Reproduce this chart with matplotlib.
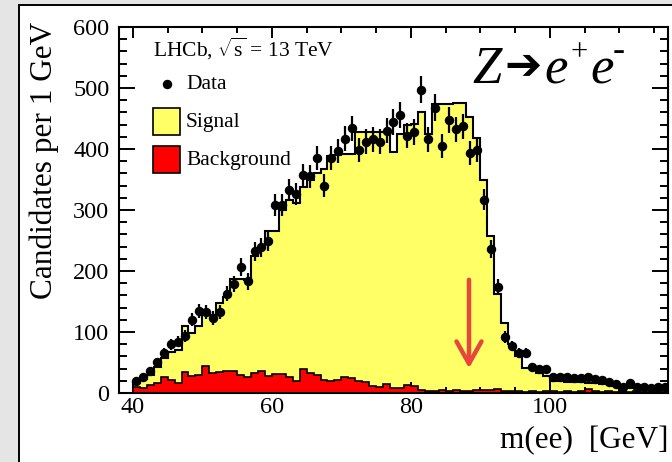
import numpy as np
import matplotlib
matplotlib.use("Agg")
import matplotlib.pyplot as plt
from matplotlib.patches import Rectangle, FancyArrowPatch
from matplotlib.lines import Line2D

plt.rcParams["font.family"] = ["Liberation Serif", "DejaVu Serif"]
plt.rcParams["mathtext.fontset"] = "custom"
plt.rcParams["mathtext.rm"] = "Liberation Serif"
plt.rcParams["mathtext.it"] = "Liberation Serif:italic"

# 1 GeV bins from 40 to 117 GeV
bin_edges = np.arange(40, 118, 1)

data_counts = [20, 27, 36, 51, 65, 80, 84, 93, 120, 135,
               132, 123, 133, 163, 179, 207, 183, 232, 239, 249,
               308, 308, 333, 326, 357, 355, 385, 340, 385, 397,
               417, 434, 398, 412, 416, 412, 430, 444, 456, 422,
               428, 497, 416, 468, 405, 447, 432, 437, 393, 399,
               317, 236, 173, 92, 77, 66, 65, 43, 39, 39,
               27, 27, 27, 24, 25, 27, 23, 22, 18, 14,
               10, 16, 10, 10, 9, 10, 10]

# signal + background stack
stack_total = [17, 23, 30, 43, 57, 67, 70, 110, 99, 110,
               128, 128, 147, 158, 187, 187, 185, 224, 237, 266,
               266, 300, 316, 311, 338, 350, 360, 368, 388, 390,
               392, 392, 428, 428, 428, 428, 428, 395, 424, 440,
               441, 461, 424, 473, 473, 473, 475, 475, 452, 418,
               349, 257, 163, 115, 80, 60, 41, 41, 33, 28,
               19, 19, 18, 18, 18, 17, 17, 15, 14, 12,
               10, 9, 8, 7, 6, 5, 5]

background = [10, 9, 13, 17, 27, 21, 17, 35, 28, 29,
              44, 33, 35, 36, 36, 29, 26, 33, 36, 28,
              31, 31, 27, 20, 39, 32, 29, 21, 19, 22,
              27, 25, 20, 18, 12, 10, 15, 8, 8, 13,
              12, 5, 4, 4, 5, 3, 5, 4, 4, 5,
              5, 5, 6, 4, 3, 4, 2, 3, 2, 4,
              3, 2, 3, 2, 4, 6, 3, 2, 3, 2,
              4, 2, 3, 2, 2, 3, 2]

W, H = 672, 462
fig = plt.figure(figsize=(W / 100, H / 100), dpi=100)
fig.patch.set_facecolor("#e5e5e5")


def fx(x):
    return x / W


def fy(y):
    return 1 - y / H


# white canvas pad with black frame, running off the right and bottom edges
fig.patches.append(Rectangle((fx(19), -0.1), fx(700), 1.1 - 5 / H, transform=fig.transFigure,
                             facecolor="white", edgecolor="black", linewidth=1.4, zorder=-10))

ax = fig.add_axes([fx(119), fy(393), fx(668 - 119), (393 - 27) / H])
ax.set_zorder(1)
ax.set_facecolor("white")

centers = bin_edges[:-1] + 0.5

ax.stairs(stack_total, bin_edges, fill=True, color="#ffff66", zorder=1)
ax.stairs(stack_total, bin_edges, color="black", linewidth=1.5, zorder=2)
ax.stairs(background, bin_edges, fill=True, color="#ff0000", zorder=3)
ax.stairs(background, bin_edges, color="black", linewidth=1.2, zorder=4)

ax.errorbar(centers, data_counts, yerr=np.sqrt(data_counts), fmt="o", color="black",
            markersize=5.8, elinewidth=1.6, capsize=0, zorder=6)

ax.set_xlim(38, 117)
ax.set_ylim(0, 600)
ax.set_xticks([40, 60, 80, 100])
ax.set_xticks(np.arange(40, 118, 5), minor=True)
ax.set_yticks(np.arange(0, 601, 100))
ax.set_yticks(np.arange(0, 601, 20), minor=True)
ax.tick_params(axis="both", which="both", direction="in", top=True, right=True,
               labelsize=17.5, width=1.4, colors="black")
ax.tick_params(axis="y", which="major", length=11.5, pad=7)
ax.tick_params(axis="y", which="minor", length=5.8)
ax.tick_params(axis="x", which="major", length=8, pad=3)
ax.tick_params(axis="x", which="minor", length=4)
for s in ax.spines.values():
    s.set_linewidth(1.5)
    s.set_zorder(9)
ax.set_axisbelow(False)

fig.text(fx(44), fy(22), "Candidates per 1 GeV", rotation=90, ha="center", va="top",
         fontsize=22.5, zorder=5)
fig.text(fx(668), fy(448), "m(ee)  [GeV]", ha="right", va="baseline", fontsize=22.5, zorder=5)

# legend block
fig.text(fx(153), fy(49), r"LHCb, $\sqrt{\mathrm{s}}$ = 13 TeV", ha="left", va="center",
         fontsize=15.5, zorder=5)
fig.add_artist(Line2D([fx(167)], [fy(84)], marker="o", color="black",
                      markersize=5.8, linestyle="none",
                      transform=fig.transFigure, zorder=5))
fig.text(fx(186), fy(85), "Data", ha="left", va="center", fontsize=15.5, zorder=5)
fig.add_artist(Rectangle((fx(153), fy(135)), fx(27), (135 - 108) / H,
                         transform=fig.transFigure, facecolor="#ffff66",
                         edgecolor="black", linewidth=1.2, zorder=5))
fig.text(fx(186), fy(123), "Signal", ha="left", va="center", fontsize=15.5, zorder=5)
fig.add_artist(Rectangle((fx(153), fy(173)), fx(27), (173 - 146) / H,
                         transform=fig.transFigure, facecolor="#ff0000",
                         edgecolor="black", linewidth=1.2, zorder=5))
fig.text(fx(186), fy(160), "Background", ha="left", va="center", fontsize=15.5, zorder=5)

# decay label
fig.text(fx(472), fy(83), "Z", style="italic", ha="left", va="baseline", fontsize=38, zorder=5)
fig.text(fx(504), fy(66), "\u2794", family="DejaVu Sans", ha="left", va="center",
         fontsize=32, zorder=5)
fig.text(fx(544), fy(83), "e", style="italic", ha="left", va="baseline", fontsize=38, zorder=5)
fig.text(fx(571), fy(60), "+", ha="left", va="baseline", fontsize=22, zorder=5)
fig.text(fx(590), fy(83), "e", style="italic", ha="left", va="baseline", fontsize=38, zorder=5)
fig.text(fx(613), fy(60), "-", ha="left", va="baseline", fontsize=26, zorder=5)

# marker arrow
fig.add_artist(FancyArrowPatch(
    (fx(469), fy(277)), (fx(469), fy(371)), transform=fig.transFigure,
    arrowstyle="->,head_length=0.8,head_width=0.45", mutation_scale=20,
    color="#e8453c", linewidth=3.2, zorder=20))

fig.savefig("out.png", dpi=100, facecolor=fig.get_facecolor())
